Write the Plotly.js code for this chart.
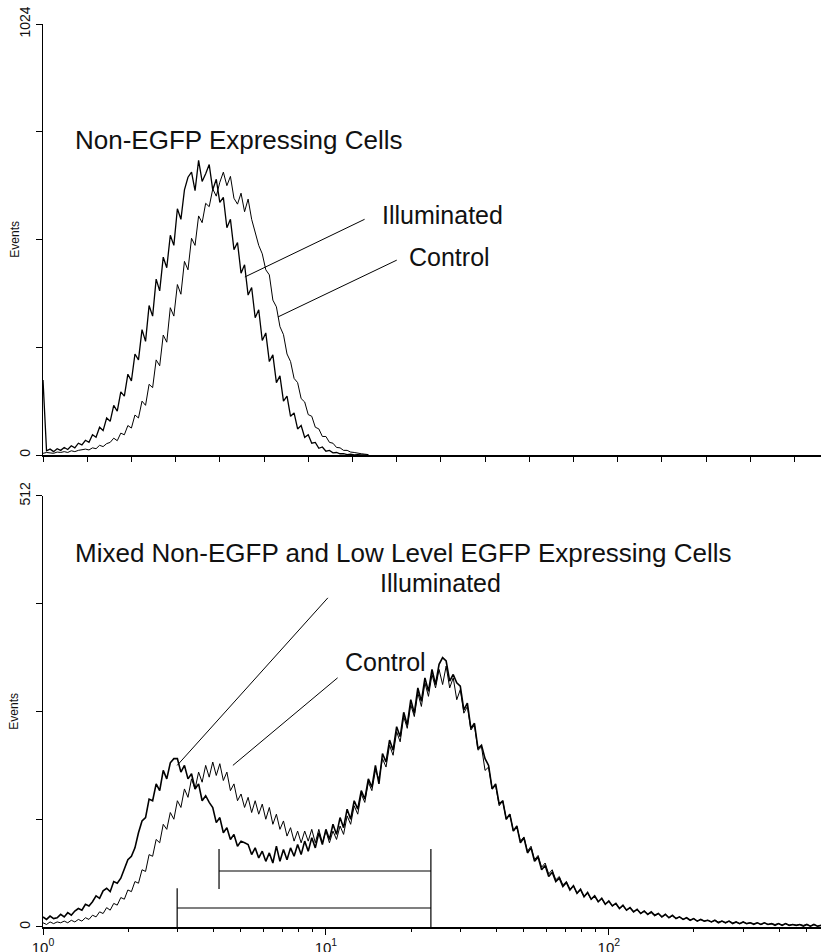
<!DOCTYPE html>
<html>
<head>
<meta charset="utf-8">
<script src="https://cdn.plot.ly/plotly-3.0.1.min.js"></script>
<style>html,body{margin:0;padding:0;background:#fff;}#chart{width:821px;height:952px;}</style>
</head>
<body>
<div id="chart"></div>
<script>
// histogram channel grid: one bin every 0.0125 decade starting at 10^0
const binStepDecades = 0.0125;

// ---- top panel: Non-EGFP expressing cells (counts per bin) ----
const topIlluminated = [
  178, 10, 14, 8, 15, 11, 18, 13, 22, 17,
  28, 24, 35, 30, 48, 42, 66, 58, 88, 80,
  118, 104, 150, 140, 192, 176, 240, 226, 298, 270,
  355, 330, 418, 390, 470, 445, 522, 498, 585, 560,
  630, 660, 672, 628, 700, 650, 668, 690, 630, 655,
  600, 612, 540, 560, 488, 505, 432, 452, 380, 398,
  326, 345, 272, 290, 222, 238, 172, 188, 128, 140,
  92, 100, 62, 70, 42, 48, 28, 30, 16, 19,
  9, 11, 5, 6, 3, 3, 1, 2, 0, 1,
  0, 0, 0];
const topControl = [
  4, 6, 5, 4, 7, 6, 8, 6, 10, 8,
  11, 12, 14, 12, 17, 15, 23, 20, 27, 30,
  40, 34, 52, 48, 70, 64, 95, 88, 128, 118,
  168, 160, 226, 212, 285, 268, 350, 330, 405, 382,
  460, 440, 515, 498, 568, 552, 598, 590, 632, 615,
  648, 672, 640, 662, 610, 596, 622, 578, 608, 560,
  532, 498, 478, 440, 428, 368, 352, 305, 286, 240,
  222, 182, 172, 134, 126, 96, 92, 66, 62, 44,
  44, 30, 28, 18, 17, 11, 11, 7, 6, 4,
  3, 2, 1];

// ---- bottom panel: mixed non-EGFP and low level EGFP expressing cells ----
const botIlluminated = [
  12, 9, 13, 10, 11, 15, 12, 17, 14, 19,
  22, 20, 27, 25, 30, 37, 34, 43, 46, 42,
  54, 52, 58, 70, 80, 84, 94, 112, 126, 130,
  152, 150, 170, 162, 186, 176, 195, 200, 200, 184,
  192, 176, 182, 164, 170, 150, 156, 148, 142, 124,
  130, 112, 118, 104, 110, 96, 102, 100, 98, 86,
  94, 82, 90, 78, 88, 76, 96, 78, 92, 80,
  94, 84, 98, 86, 102, 90, 106, 94, 112, 98,
  116, 104, 122, 110, 130, 118, 140, 128, 150, 140,
  162, 152, 176, 166, 192, 170, 206, 196, 222, 210,
  238, 226, 255, 240, 270, 254, 284, 268, 296, 280,
  306, 288, 312, 320, 316, 292, 300, 290, 286, 258,
  266, 236, 242, 212, 216, 200, 192, 164, 170, 146,
  150, 128, 134, 114, 120, 100, 106, 88, 94, 78,
  83, 68, 73, 60, 65, 54, 58, 48, 53, 44,
  49, 40, 45, 36, 41, 33, 37, 30, 34, 27,
  31, 25, 28, 22, 26, 20, 23, 18, 21, 16,
  19, 15, 18, 14, 16, 12, 15, 11, 14, 10,
  12, 9, 11, 8, 10, 7, 9, 7, 8, 6,
  8, 5, 7, 5, 7, 4, 6, 4, 6, 4,
  5, 3, 5, 3, 5, 3, 4, 2, 4, 2,
  4, 2, 3, 2, 3, 1, 3, 1, 3, 1, 2];
const botControl = [
  5, 3, 6, 4, 6, 5, 7, 5, 8, 6,
  9, 7, 11, 9, 14, 12, 18, 16, 23, 20,
  28, 26, 35, 33, 44, 42, 54, 52, 68, 66,
  86, 84, 104, 100, 122, 116, 136, 128, 150, 142,
  164, 154, 176, 164, 184, 172, 192, 178, 196, 180,
  194, 174, 184, 162, 170, 150, 158, 142, 154, 136,
  150, 134, 146, 128, 142, 122, 134, 116, 126, 108,
  118, 102, 114, 100, 114, 102, 116, 100, 116, 100,
  114, 100, 114, 104, 120, 110, 132, 122, 144, 134,
  158, 148, 172, 162, 186, 176, 200, 190, 216, 204,
  232, 220, 250, 236, 264, 250, 278, 262, 290, 274,
  300, 284, 306, 288, 310, 284, 296, 270, 282, 254,
  262, 234, 240, 210, 214, 186, 190, 164, 168, 144,
  150, 128, 134, 114, 119, 102, 107, 90, 96, 80,
  85, 71, 76, 63, 68, 56, 60, 50, 54, 45,
  49, 40, 44, 36, 40, 33, 37, 30, 34, 27,
  30, 25, 28, 22, 25, 20, 23, 18, 21, 16,
  19, 15, 17, 13, 16, 12, 15, 11, 13, 10,
  12, 9, 11, 8, 10, 7, 9, 7, 8, 6,
  8, 6, 7, 5, 7, 5, 6, 4, 6, 4,
  5, 4, 5, 3, 5, 3, 4, 3, 4, 2,
  4, 2, 3, 2, 3, 2, 3, 1, 3, 1, 2];

// gates (markers) in the bottom panel
const gateLowerX = [2.98, 23.5];
const gateLowerY = 22.6;
const gateLowerTick = [0, 46];
const gateUpperX = [4.19, 23.5];
const gateUpperY = 66.5;
const gateUpperTick = [45, 92.6];

// pointer lines (data coordinates)
const topIllumPtrX = [5.17, 13.7], topIllumPtrY = [423, 560];
const topCtrlPtrX = [6.77, 17.8], topCtrlPtrY = [328, 463];
const botIllumPtrX = [2.98, 10.16], botIllumPtrY = [192, 391];
const botCtrlPtrX = [4.69, 11.0], botCtrlPtrY = [192, 296];

// axis ticks
const decadeVals = [1, 10, 100];
const decadeText = ['10<sup>0</sup>', '10<sup>1</sup>', '10<sup>2</sup>'];
const minorVals = [2,3,4,5,6,7,8,9,20,30,40,50,60,70,80,90,200,300,400,500];
const topTickVals = [1, 1.433, 2.0535, 2.9427, 4.217, 6.043, 8.6596, 12.409, 17.783, 25.482, 36.517, 52.33, 74.989, 107.46, 153.99, 220.67, 316.23, 453.16];
const topYTicks = [0, 256, 512, 768, 1024];
const topYText = ['0', '', '', '', '1024'];
const botYTicks = [0, 128, 256, 384, 512];
const botYText = ['0', '', '', '', '512'];

function binX(n) {
  const xs = [];
  for (let i = 0; i < n; i++) xs.push(Math.pow(10, i * binStepDecades));
  return xs;
}

const ink = '#111';
const FONT = 'Liberation Sans, Arial, Helvetica, sans-serif';

function hist(vals, xa, ya, w) {
  return {x: binX(vals.length), y: vals, xaxis: xa, yaxis: ya, type: 'scatter', mode: 'lines',
          line: {color: '#000', width: w, shape: 'linear'}, hoverinfo: 'skip', showlegend: false};
}
function seg(xs, ys, xa, ya, w) {
  return {x: xs, y: ys, xaxis: xa, yaxis: ya, type: 'scatter', mode: 'lines',
          line: {color: '#000', width: w || 1}, hoverinfo: 'skip', showlegend: false};
}

const traces = [
  hist(topControl, 'x2', 'y2', 1),
  hist(topIlluminated, 'x2', 'y2', 1.3),
  hist(botControl, 'x', 'y', 1),
  hist(botIlluminated, 'x', 'y', 1.6),
  seg(topIllumPtrX, topIllumPtrY, 'x2', 'y2'),
  seg(topCtrlPtrX, topCtrlPtrY, 'x2', 'y2'),
  seg(botIllumPtrX, botIllumPtrY, 'x', 'y'),
  seg(botCtrlPtrX, botCtrlPtrY, 'x', 'y'),
  seg([gateLowerX[0], gateLowerX[0]], gateLowerTick, 'x', 'y', 1.2),
  seg(gateLowerX, [gateLowerY, gateLowerY], 'x', 'y', 1.2),
  seg([gateUpperX[0], gateUpperX[0]], gateUpperTick, 'x', 'y', 1.2),
  seg(gateUpperX, [gateUpperY, gateUpperY], 'x', 'y', 1.2),
  seg([gateUpperX[1], gateUpperX[1]], [0, gateUpperTick[1]], 'x', 'y', 1.2)
];

const lg = Math.log10;
function ann(text, x, y, xa, ya, size) {
  return {text: text, x: lg(x), y: y, xref: xa, yref: ya, showarrow: false,
          xanchor: 'left', yanchor: 'middle', font: {family: FONT, size: size, color: ink}};
}
function yLabel(ya, y) {
  return {text: 'Events', xref: 'paper', yref: ya, x: -0.037, y: y, showarrow: false, textangle: -90,
          xanchor: 'center', yanchor: 'middle', font: {family: FONT, size: 12, color: ink}};
}

const axisCommon = {
  type: 'log', range: [0, 2.75], showgrid: false, zeroline: false,
  showline: true, linecolor: '#000', linewidth: 1.5, ticks: 'outside', tickcolor: '#000',
  tickwidth: 1, fixedrange: true
};

const layout = {
  width: 821, height: 952,
  margin: {l: 43, r: 0, t: 24, b: 25, pad: 0},
  paper_bgcolor: '#fff', plot_bgcolor: '#fff',
  font: {family: FONT, color: ink},
  showlegend: false,
  xaxis: Object.assign({}, axisCommon, {
    anchor: 'y', tickmode: 'array', tickvals: decadeVals, ticktext: decadeText, ticklen: 6,
    tickfont: {family: FONT, size: 15, color: ink},
    minor: {tickmode: 'array', tickvals: minorVals, ticklen: 3, tickcolor: '#000', tickwidth: 1, ticks: 'outside'}
  }),
  xaxis2: Object.assign({}, axisCommon, {
    anchor: 'y2', tickmode: 'array', tickvals: topTickVals, ticktext: topTickVals.map(() => ''), ticklen: 5
  }),
  yaxis: {
    domain: [0, 0.4773], range: [0, 512], showgrid: false, zeroline: false, showline: true,
    linecolor: '#000', linewidth: 1.5, ticks: 'outside', ticklen: 6, tickcolor: '#000',
    tickmode: 'array', tickvals: botYTicks, ticktext: botYText, tickangle: -90,
    tickfont: {family: FONT, size: 14, color: ink}, fixedrange: true
  },
  yaxis2: {
    domain: [0.5227, 1], range: [0, 1024], showgrid: false, zeroline: false, showline: true,
    linecolor: '#000', linewidth: 1.5, ticks: 'outside', ticklen: 6, tickcolor: '#000',
    tickmode: 'array', tickvals: topYTicks, ticktext: topYText, tickangle: -90,
    tickfont: {family: FONT, size: 14, color: ink}, fixedrange: true
  },
  annotations: [
    yLabel('y2', 512),
    yLabel('y', 256),
    ann('Non-EGFP Expressing Cells', 1.277, 748, 'x2', 'y2', 26),
    ann('Illuminated', 15.5, 570, 'x2', 'y2', 25),
    ann('Control', 19.3, 470, 'x2', 'y2', 25),
    ann('Mixed Non-EGFP and Low Level EGFP Expressing Cells', 1.277, 444, 'x', 'y', 26),
    ann('Illuminated', 15.3, 409, 'x', 'y', 25),
    ann('Control', 11.5, 315, 'x', 'y', 25)
  ]
};

Plotly.newPlot('chart', traces, layout, {staticPlot: true, displayModeBar: false});
</script>
</body>
</html>
